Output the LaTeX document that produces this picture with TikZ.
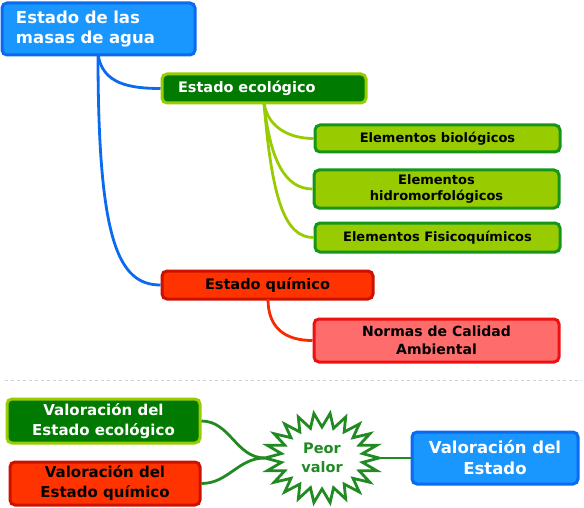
\documentclass[tikz,border=0pt]{standalone}
\usepackage{fontspec}
\setmainfont{DejaVu Sans}[BoldFont={DejaVu Sans Bold}]
\usetikzlibrary{positioning,shapes.geometric}
\definecolor{azul}{HTML}{1A96FF}
\definecolor{azulborde}{HTML}{0A6AF0}
\definecolor{verdeosc}{HTML}{007A00}
\definecolor{verdecl}{HTML}{99CC00}
\definecolor{verdeborde}{HTML}{15961A}
\definecolor{rojo}{HTML}{FF3300}
\definecolor{rojoborde}{HTML}{CC1100}
\definecolor{rosa}{HTML}{FF6C6C}
\definecolor{rosaborde}{HTML}{EE1111}
\definecolor{estrella}{HTML}{228A22}
\definecolor{separa}{HTML}{C4D6E0}
\tikzset{
  caja/.style={rectangle, rounded corners=5pt, line width=3pt, inner sep=0pt,
    font=\bfseries, align=center},
  raiz/.style={caja, fill=azul, draw=azulborde, text=white},
  ecol/.style={caja, fill=verdeosc, draw=verdecl, text=white},
  elem/.style={caja, fill=verdecl, draw=verdeborde, text=black},
  quim/.style={caja, fill=rojo, draw=rojoborde, text=black},
  norma/.style={caja, fill=rosa, draw=rosaborde, text=black},
  rama/.style={line width=2.8pt},
}
\begin{document}
\begin{tikzpicture}[x=1pt, y=-1pt]
\useasboundingbox (0,0) rectangle (584,508);
% Arbol del estado
\node[raiz, minimum width=193pt, minimum height=52pt, text width=165pt, align=left,
  font=\bfseries\fontsize{16.5}{20}\selectfont] (masas) at (98.5,29) {Estado de las\\masas de agua};
\node[ecol, minimum width=204pt, minimum height=29pt, text width=172pt, align=left,
  font=\bfseries\fontsize{14.5}{17}\selectfont] (ecologico) at (264,88.5) {Estado ecológico};
\node[elem, minimum width=245pt, minimum height=27pt,
  font=\bfseries\fontsize{13}{16}\selectfont] (biologicos) at (437.5,138.5) {Elementos biológicos};
\node[elem, minimum width=245pt, minimum height=38pt,
  font=\bfseries\fontsize{13}{16}\selectfont] (hidro) at (436.5,189) {Elementos\\hidromorfológicos};
\node[elem, minimum width=245pt, minimum height=29pt,
  font=\bfseries\fontsize{13}{16}\selectfont] (fisico) at (437.5,237.5) {Elementos Fisicoquímicos};
\node[quim, minimum width=211pt, minimum height=28pt,
  font=\bfseries\fontsize{14.5}{17}\selectfont] (quimico) at (267.5,285) {Estado químico};
\node[norma, minimum width=245pt, minimum height=43pt,
  font=\bfseries\fontsize{14}{18}\selectfont] (normas) at (436.5,340.5) {Normas de Calidad\\Ambiental};
\coordinate (raizbase) at (98,54);
\coordinate (ecolbase) at (264,103);
\coordinate (quimbase) at (268,299);
\draw[rama, draw=azulborde] (raizbase) .. controls (102,84) and (130,88.5) .. (ecologico.west);
\draw[rama, draw=azulborde] (raizbase) .. controls (98,240) and (118,285) .. (quimico.west);
\draw[rama, draw=verdecl] (ecolbase) .. controls (268,128) and (290,138.5) .. (biologicos.west);
\draw[rama, draw=verdecl] (ecolbase) .. controls (270,160) and (285,189) .. (hidro.west);
\draw[rama, draw=verdecl] (ecolbase) .. controls (272,200) and (285,237.5) .. (fisico.west);
\draw[rama, draw=rojo!80!rojoborde] (quimbase) .. controls (268,328) and (285,340.5) .. (normas.west);
% Separador
\draw[separa, line width=0.8pt, dashed] (5,380) -- (582,380);
% Valoracion
\node[ecol, minimum width=193pt, minimum height=44pt,
  font=\bfseries\fontsize{15}{20}\selectfont] (valecol) at (103.5,421) {Valoración del\\Estado ecológico};
\node[quim, minimum width=190pt, minimum height=43pt,
  font=\bfseries\fontsize{15}{20}\selectfont] (valquim) at (105,483.5) {Valoración del\\Estado químico};
\node[raiz, minimum width=166pt, minimum height=52pt,
  font=\bfseries\fontsize{16.5}{21}\selectfont] (valestado) at (495,458) {Valoración del\\Estado};
\node[ellipse, minimum width=114pt, minimum height=90pt, inner sep=0pt] (peor) at (322,458) {};
\draw[estrella, line width=2.8pt, line join=miter, fill=white]
  plot[samples=45, domain=0:44, variable=\k]
  ({322+(mod(\k,2)==0 ? 57 : 41)*cos(\k*360/44)},
   {458+(mod(\k,2)==0 ? 45 : 31)*sin(\k*360/44)}) -- cycle;
\node[text=estrella, font=\bfseries\fontsize{14.5}{19}\selectfont, align=center] (peortexto) at (peor) {Peor\\valor};
\draw[rama, draw=estrella] (valecol.east) to[out=0, in=180] (peor.west);
\draw[rama, draw=estrella] (valquim.east) to[out=0, in=180] (peor.west);
\draw[rama, draw=estrella] (peor.east) -- (valestado.west);
\end{tikzpicture}
\end{document}
